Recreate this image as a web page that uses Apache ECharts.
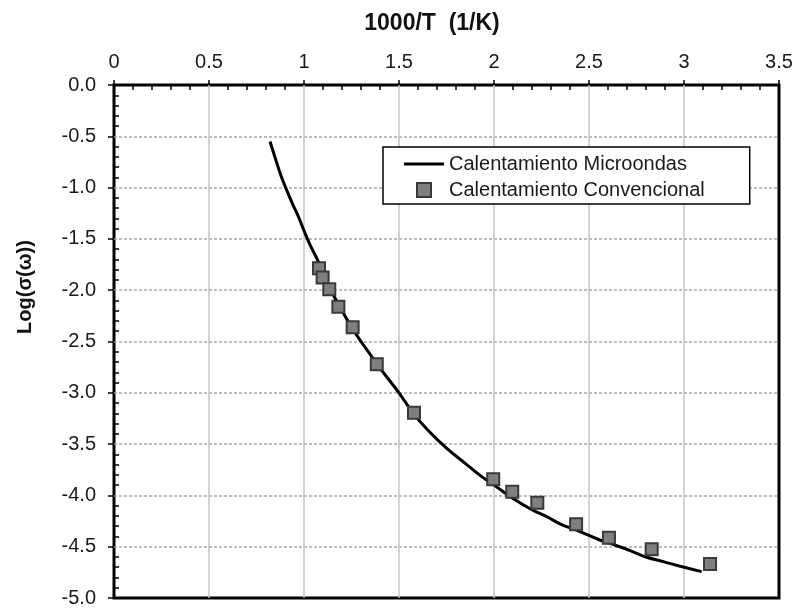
<!DOCTYPE html>
<html>
<head>
<meta charset="utf-8">
<script src="https://cdn.jsdelivr.net/npm/echarts@6/dist/echarts.min.js"></script>
<style>
html,body{margin:0;padding:0;background:#fff;}
#chart{width:798px;height:611px;}
</style>
</head>
<body>
<div id="chart"></div>
<script>
// Line: Calentamiento Microondas
var lineX = [0.821,0.85,0.88,0.91,0.94,0.97,1.00,1.03,1.07,1.10,1.15,1.20,1.25,1.30,1.35,1.40,1.45,1.50,1.575,1.65,1.75,1.85,1.93,2.00,2.10,2.20,2.28,2.35,2.45,2.55,2.63,2.72,2.80,2.90,2.98,3.093];
var lineY = [-0.55,-0.72,-0.89,-1.03,-1.16,-1.28,-1.42,-1.55,-1.70,-1.83,-2.03,-2.20,-2.36,-2.50,-2.63,-2.76,-2.88,-3.00,-3.20,-3.36,-3.54,-3.69,-3.81,-3.90,-4.03,-4.14,-4.21,-4.28,-4.35,-4.43,-4.48,-4.54,-4.60,-4.65,-4.69,-4.743];
// Squares: Calentamiento Convencional
var convX = [1.079,1.098,1.133,1.181,1.256,1.383,1.579,1.996,2.096,2.228,2.432,2.605,2.830,3.137];
var convY = [-1.787,-1.875,-1.991,-2.161,-2.362,-2.722,-3.194,-3.843,-3.964,-4.071,-4.282,-4.412,-4.526,-4.669];
var seriesNames = ['Calentamiento Microondas','Calentamiento Convencional'];
var xTitle = '1000/T  (1/K)';
var yTitle = 'Log(\u03c3(\u03c9))';

function zip(a,b){var r=[];for(var i=0;i<a.length;i++)r.push([a[i],b[i]]);return r;}

var chart = echarts.init(document.getElementById('chart'), null, {renderer:'canvas'});
var FONT = 'Liberation Sans, Arial, sans-serif';
var gridRect = {left:114,right:19,top:85,bottom:13};
var tickStyle = {color:'#000',width:1.5};
chart.setOption({
  backgroundColor:'#fff',
  animation:false,
  grid:[
    Object.assign({show:true,borderColor:'#000',borderWidth:3,backgroundColor:'transparent'}, gridRect),
    Object.assign({show:false}, gridRect)
  ],
  xAxis:[{
    gridIndex:0, type:'value', position:'top', min:0, max:3.5, interval:0.5,
    axisLine:{show:false},
    axisTick:{show:true,inside:false,length:5,lineStyle:tickStyle},
    axisLabel:{margin:13,fontSize:20,color:'#1a1a1a',fontFamily:FONT},
    splitLine:{show:true,showMinLine:false,showMaxLine:false,lineStyle:{color:'#c4c4c4',width:1.5}}
  },{
    gridIndex:1, type:'value', position:'top', min:0, max:3.5, interval:0.5,
    axisLine:{show:false}, axisLabel:{show:false}, splitLine:{show:false},
    axisTick:{show:false,inside:true},
    minorTick:{show:true,splitNumber:5,length:5,lineStyle:tickStyle}
  }],
  yAxis:[{
    gridIndex:0, type:'value', min:-5, max:0, interval:0.5,
    axisLine:{show:false},
    axisTick:{show:true,inside:false,length:6,lineStyle:tickStyle},
    axisLabel:{margin:18,fontSize:20,color:'#1a1a1a',fontFamily:FONT,formatter:function(v){return v.toFixed(1);}},
    splitLine:{show:true,showMinLine:false,showMaxLine:false,lineStyle:{color:'#a8a8a8',width:1.5,type:[3,2]}}
  },{
    gridIndex:1, type:'value', min:-5, max:0, interval:0.5,
    axisLine:{show:false}, axisLabel:{show:false}, splitLine:{show:false},
    axisTick:{show:false,inside:true},
    minorTick:{show:true,splitNumber:5,length:5,lineStyle:tickStyle}
  }],
  legend:{
    left:383, top:147, orient:'vertical',
    backgroundColor:'#fff', borderColor:'#000', borderWidth:1.5,
    padding:[7,45,4,21], itemGap:6, itemWidth:40, itemHeight:14,
    textStyle:{fontSize:20,color:'#1a1a1a',fontFamily:FONT,lineHeight:20},
    data:[
      {name:seriesNames[0], icon:'path://M0,0h40v3h-40z', itemStyle:{color:'#000'}},
      {name:seriesNames[1], icon:'path://M0,0h10v10h-10z'}
    ]
  },
  graphic:[
    {type:'text', x:432, y:24, style:{text:xTitle, font:'bold 23px '+FONT, fill:'#111', textAlign:'center', textVerticalAlign:'middle'}},
    {type:'text', x:25, y:287, rotation:Math.PI/2, style:{text:yTitle, font:'bold 20px '+FONT, fill:'#111', textAlign:'center', textVerticalAlign:'middle'}}
  ],
  series:[
    {name:seriesNames[0], type:'line', xAxisIndex:0, yAxisIndex:0, data:zip(lineX,lineY), symbol:'none', smooth:0.4,
     lineStyle:{color:'#000',width:3}, itemStyle:{color:'#000'}, z:2},
    {name:seriesNames[1], type:'scatter', xAxisIndex:0, yAxisIndex:0, data:zip(convX,convY), symbol:'rect', symbolSize:12,
     itemStyle:{color:'#7f7f7f',borderColor:'#3a3a3a',borderWidth:2,opacity:1}, z:3}
  ]
});
</script>
</body>
</html>
